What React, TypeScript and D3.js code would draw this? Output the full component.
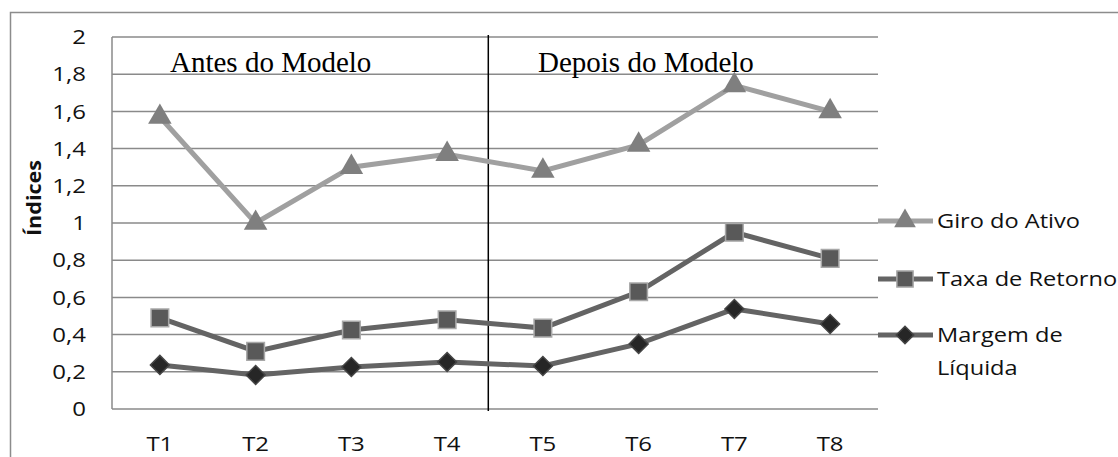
import React, { useEffect, useRef } from "react";
import * as d3 from "d3";

// periods on the x axis
const periods = ["T1", "T2", "T3", "T4", "T5", "T6", "T7", "T8"];

// values
const giroAtivo = [1.57, 1.0, 1.3, 1.37, 1.28, 1.42, 1.74, 1.6];
const taxaRetorno = [0.49, 0.31, 0.425, 0.48, 0.435, 0.63, 0.95, 0.81];
const margemLiquida = [0.237, 0.183, 0.226, 0.253, 0.231, 0.35, 0.538, 0.457];

const yTicks = [0, 0.2, 0.4, 0.6, 0.8, 1, 1.2, 1.4, 1.6, 1.8, 2];

const seriesNames = ["Giro do Ativo", "Taxa de Retorno", "Margem de Líquida"];
const phaseLabels = ["Antes do Modelo", "Depois do Modelo"];

const SANS = "'Open Sans', sans-serif";
const SX = 1.2; // the original labels are wide (stretched Calibri look)

const App = () => {
  const ref = useRef<SVGSVGElement | null>(null);

  useEffect(() => {
    const W = 1118,
      H = 457;
    const left = 112,
      right = 878,
      top = 37,
      bottom = 409;

    const svg = d3.select(ref.current);
    svg.selectAll("*").remove();

    const x = d3.scaleBand().domain(periods).range([left, right]);
    const y = d3.scaleLinear().domain([0, 2]).range([bottom, top]);
    const cx = (d: string) => (x(d) as number) + x.bandwidth() / 2;

    // outer chart border (runs off right and bottom edge)
    svg.append("rect")
      .attr("x", 10.5)
      .attr("y", 12.5)
      .attr("width", W + 20)
      .attr("height", H + 20)
      .attr("fill", "white")
      .attr("stroke", "#8c8c8c")
      .attr("stroke-width", 1.5);

    // horizontal gridlines
    svg.selectAll(".grid")
      .data(yTicks)
      .join("line")
      .attr("class", "grid")
      .attr("x1", left)
      .attr("x2", right)
      .attr("y1", (d) => y(d))
      .attr("y2", (d) => y(d))
      .attr("stroke", "#8a8a8a")
      .attr("stroke-width", 1.5);

    // left axis line
    svg.append("line")
      .attr("x1", left)
      .attr("x2", left)
      .attr("y1", top)
      .attr("y2", bottom)
      .attr("stroke", "#8a8a8a")
      .attr("stroke-width", 1.5);

    const fmt = (v: number) => String(Math.round(v * 10) / 10).replace(".", ",");

    svg.selectAll(".ytick")
      .data(yTicks)
      .join("text")
      .attr("class", "ytick")
      .attr("transform", (d) => `translate(86,${y(d)}) scale(${SX},1)`)
      .attr("dy", "0.36em")
      .attr("text-anchor", "end")
      .style("font-family", SANS)
      .style("font-size", "20px")
      .attr("fill", "#111")
      .text(fmt);

    svg.selectAll(".xtick")
      .data(periods)
      .join("text")
      .attr("class", "xtick")
      .attr("transform", (d) => `translate(${cx(d)},451) scale(${SX},1)`)
      .attr("text-anchor", "middle")
      .style("font-family", SANS)
      .style("font-size", "20px")
      .attr("fill", "#111")
      .text((d) => d);

    // y axis title
    svg.append("text")
      .attr("transform", `translate(41,${198}) rotate(-90) scale(1.08,1)`)
      .attr("text-anchor", "middle")
      .style("font-family", SANS)
      .style("font-size", "20px")
      .style("font-weight", "bold")
      .attr("fill", "#111")
      .text("Índices");

    // before / after divider
    const divX = (x("T5") as number) - x.bandwidth() * 0.07;
    svg.append("line")
      .attr("x1", divX)
      .attr("x2", divX)
      .attr("y1", top - 2)
      .attr("y2", bottom + 2)
      .attr("stroke", "#000")
      .attr("stroke-width", 1.5);

    svg.selectAll(".phase")
      .data(phaseLabels)
      .join("text")
      .attr("class", "phase")
      .attr("x", (d, i) => (i === 0 ? 170 : 538))
      .attr("y", 72)
      .style("font-family", "'Liberation Serif', 'Times New Roman', serif")
      .style("font-size", "29px")
      .attr("fill", "#000")
      .text((d) => d);

    const series = [
      { name: seriesNames[0], values: giroAtivo, line: "#a0a0a0", fill: "#7f7f7f", stroke: "none", shape: d3.symbolTriangle, size: 240, rot: 0 },
      { name: seriesNames[1], values: taxaRetorno, line: "#646464", fill: "#595959", stroke: "#a8a8a8", shape: d3.symbolSquare, size: 310, rot: 0 },
      { name: seriesNames[2], values: margemLiquida, line: "#646464", fill: "#262626", stroke: "#454545", shape: d3.symbolSquare, size: 180, rot: 45 },
    ];

    const line = d3.line<number>()
      .x((d, i) => cx(periods[i]))
      .y((d) => y(d));

    series.forEach((s) => {
      svg.append("path")
        .datum(s.values)
        .attr("d", line)
        .attr("fill", "none")
        .attr("stroke", s.line)
        .attr("stroke-width", 5);

      svg.selectAll(null)
        .data(s.values)
        .join("path")
        .attr("transform", (d, i) => `translate(${cx(periods[i])},${y(d)}) rotate(${s.rot})`)
        .attr("d", d3.symbol().type(s.shape).size(s.size)())
        .attr("fill", s.fill)
        .attr("stroke", s.stroke)
        .attr("stroke-width", 1.5);
    });

    // legend
    const legendY = [221, 279, 335];
    series.forEach((s, i) => {
      const g = svg.append("g").attr("transform", `translate(0,${legendY[i]})`);
      g.append("line")
        .attr("x1", 878)
        .attr("x2", 933)
        .attr("stroke", s.line)
        .attr("stroke-width", 5);
      g.append("path")
        .attr("transform", `translate(905,0) rotate(${s.rot})`)
        .attr("d", d3.symbol().type(s.shape).size(s.size * 0.85)())
        .attr("fill", s.fill)
        .attr("stroke", s.stroke)
        .attr("stroke-width", 1.5);
      const t = g.append("text")
        .attr("transform", `translate(937,0) scale(1.18,1)`)
        .attr("dy", "0.36em")
        .style("font-family", SANS)
        .style("font-size", "20px")
        .attr("fill", "#111");
      if (i === 2) {
        t.append("tspan").attr("x", 0).text("Margem de");
        t.append("tspan").attr("x", 0).attr("dy", 33).text("Líquida");
      } else {
        t.text(s.name);
      }
    });
  }, []);

  return (
    <svg
      ref={ref}
      width={1118}
      height={457}
      style={{ position: "absolute", left: 0, top: 0, background: "white" }}
    />
  );
};

export default App;
